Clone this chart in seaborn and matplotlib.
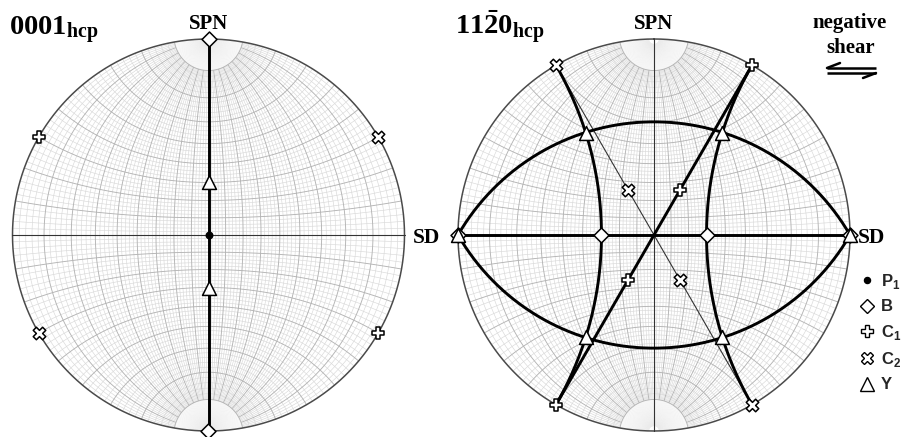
import numpy as np
import pandas as pd
import matplotlib.pyplot as plt
import seaborn as sns
from matplotlib.collections import LineCollection
from matplotlib.lines import Line2D

# marker kinds and their legend labels
kinds = ['P1', 'B', 'C1', 'C2', 'Y']
kind_labels = ['P$_1$', 'B', 'C$_1$', 'C$_2$', 'Y']

# pole figure points: polar angle from centre, azimuth ccw from SD (degrees)
pts_0001_kind = ['P1', 'B', 'B', 'C1', 'C1', 'C2', 'C2', 'Y', 'Y']
pts_0001_theta = [0, 90, 90, 90, 90, 90, 90, 30, 30]
pts_0001_azim = [0, 90, 270, 150, 330, 30, 210, 90, 270]

pts_1120_kind = ['B', 'B', 'B', 'B', 'C1', 'C1', 'C1', 'C1',
                 'C2', 'C2', 'C2', 'C2', 'Y', 'Y', 'Y', 'Y', 'Y', 'Y']
pts_1120_theta = [90, 30, 30, 90, 90, 30, 30, 90,
                  90, 30, 30, 90, 90, 64.3, 64.3, 64.3, 64.3, 90]
pts_1120_azim = [0, 0, 180, 180, 60, 60, 240, 240,
                 120, 120, 300, 300, 0, 56.3, 123.7, 236.3, 303.7, 180]

# traces: circles on the sphere given by axis (theta, azim) and cone angle
# (cone 90 = great circle); 'main' traces are the heavy ones
trc_0001_theta = [90, 90]
trc_0001_azim = [0, 90]
trc_0001_cone = [90, 90]
trc_0001_main = [True, False]

trc_1120_theta = [90, 90, 90, 90, 30, 30, 90, 90]
trc_1120_azim = [90, 150, 30, 0, 270, 90, 0, 180]
trc_1120_cone = [90, 90, 90, 90, 90, 90, 60, 60]
trc_1120_main = [True, True, False, False, True, True, True, True]

R = 196.0
centres = {'0001': (208.5, 235.0), '1120': (654.0, 235.0)}


def sph(theta, azim):
    t, a = np.radians(theta), np.radians(azim)
    return np.array([np.sin(t) * np.cos(a), np.sin(t) * np.sin(a), np.cos(t)])


def project(xyz, centre):
    x, y, z = xyz[..., 0], xyz[..., 1], xyz[..., 2]
    cx, cy = centre
    return cx + R * x / (1 + z), cy - R * y / (1 + z)


def cone_trace(theta, azim, cone, n=1440):
    p = sph(theta, azim)
    a = np.array([0, 0, 1.0]) if abs(p[2]) < 0.9 else np.array([1.0, 0, 0])
    u = np.cross(p, a)
    u /= np.linalg.norm(u)
    v = np.cross(p, u)
    t = np.linspace(0, 2 * np.pi, n, endpoint=False)
    c = np.radians(cone)
    pts = np.cos(c) * p + np.sin(c) * (np.cos(t)[:, None] * u + np.sin(t)[:, None] * v)
    keep = pts[:, 2] >= -1e-9
    if keep.all():
        return np.vstack([pts, pts[:1]])
    k = np.where(~keep & np.roll(keep, -1))[0][0] + 1
    pts, keep = np.roll(pts, -k, axis=0), np.roll(keep, -k)
    return pts[keep]


def meridian(lam, phi_lo, phi_hi, centre):
    phi = np.radians(np.linspace(phi_lo, phi_hi, 241))
    l = np.radians(lam)
    xyz = np.stack([np.cos(phi) * np.sin(l), np.sin(phi), np.cos(phi) * np.cos(l)], axis=-1)
    px, py = project(xyz, centre)
    return np.column_stack([px, py])


def net_segments(centre):
    fine, major, cap = [], [], []
    for lam in range(-88, 89, 2):
        (major if lam % 10 == 0 else fine).append(meridian(lam, -80, 80, centre))
        cap.append(meridian(lam, 80, 88.5, centre))
        cap.append(meridian(lam, -88.5, -80, centre))
    lam_s = np.radians(np.linspace(-90, 90, 361))
    for ph in range(-80, 81, 2):
        f = np.radians(ph)
        xyz = np.stack([np.cos(f) * np.sin(lam_s), np.full_like(lam_s, np.sin(f)),
                        np.cos(f) * np.cos(lam_s)], axis=-1)
        px, py = project(xyz, centre)
        (major if ph % 10 == 0 else fine).append(np.column_stack([px, py]))
    return fine, major, cap


sns.set_style('white')
plt.rcParams['mathtext.fontset'] = 'custom'
plt.rcParams['mathtext.rm'] = 'Liberation Sans:bold'
plt.rcParams['mathtext.bf'] = 'Liberation Serif:bold'

fig = plt.figure(figsize=(9.06, 4.37), dpi=100)
ax = fig.add_axes([0, 0, 1, 1])
ax.set_xlim(0, 906)
ax.set_ylim(437, 0)
ax.axis('off')

marker_style = {
    'P1': dict(marker='o', s=4.6 ** 2, color='black'),
    'B': dict(marker='D', s=7.6 ** 2, color='white'),
    'C1': dict(marker='P', s=9.0 ** 2, color='white'),
    'C2': dict(marker='X', s=9.0 ** 2, color='white'),
    'Y': dict(marker='^', s=10.0 ** 2, color='white'),
}

panels = {
    '0001': (pts_0001_kind, pts_0001_theta, pts_0001_azim,
             trc_0001_theta, trc_0001_azim, trc_0001_cone, trc_0001_main),
    '1120': (pts_1120_kind, pts_1120_theta, pts_1120_azim,
             trc_1120_theta, trc_1120_azim, trc_1120_cone, trc_1120_main),
}

for name, (pk, pt, pa, tt, ta, tc, tm) in panels.items():
    centre = centres[name]
    # Wulff net
    fine, major, cap = net_segments(centre)
    ax.add_collection(LineCollection(cap, colors='#ebebeb', linewidths=0.3, zorder=1))
    ax.add_collection(LineCollection(fine, colors='#d9d9d9', linewidths=0.45, zorder=1))
    ax.add_collection(LineCollection(major, colors='#b4b4b4', linewidths=0.65, zorder=1.2))
    prim = cone_trace(0, 0, 90)
    px, py = project(prim, centre)
    ax.plot(px, py, color='#4a4a4a', lw=1.1, zorder=2)

    # traces
    rows = []
    for i, (th, az, cn, mn) in enumerate(zip(tt, ta, tc, tm)):
        xyz = cone_trace(th, az, cn)
        px, py = project(xyz, centre)
        rows.append(pd.DataFrame({'x': px, 'y': py, 'trace': i, 'main': mn}))
    trc = pd.concat(rows, ignore_index=True)
    sns.lineplot(data=trc[trc['main']], x='x', y='y', units='trace', estimator=None,
                 sort=False, color='black', linewidth=2.1, ax=ax, zorder=3)
    sns.lineplot(data=trc[~trc['main']], x='x', y='y', units='trace', estimator=None,
                 sort=False, color='#333333', linewidth=0.8, ax=ax, zorder=2.5)

    # markers
    xyz = np.array([sph(t, a) for t, a in zip(pt, pa)])
    px, py = project(xyz, centre)
    pts = pd.DataFrame({'x': px, 'y': py, 'kind': pk})
    for kd in kinds:
        sub = pts[pts['kind'] == kd]
        if len(sub):
            st = marker_style[kd]
            sns.scatterplot(data=sub, x='x', y='y', marker=st['marker'], s=st['s'],
                            color=st['color'], edgecolor='black', linewidth=1.1,
                            ax=ax, zorder=5, clip_on=False, legend=False)

ax.set_xlabel('')
ax.set_ylabel('')

serif = dict(family='Liberation Serif', weight='bold', color='black')
ax.text(9, 35, r'$\mathbf{0001_{hcp}}$', fontsize=20.5, ha='left', va='baseline', color='black')
ax.text(455, 35, r'$\mathbf{11\bar{2}0_{hcp}}$', fontsize=20.5, ha='left', va='baseline', color='black')
for name, (cx, cy) in centres.items():
    ax.text(cx, 29, 'SPN', fontsize=15, ha='center', va='baseline', **serif)
    ax.text(cx + R + 8, cy + 8, 'SD', fontsize=15.5, ha='left', va='baseline', **serif)
ax.text(850, 28, 'negative', fontsize=15, ha='center', va='baseline', **serif)
ax.text(851, 53, 'shear', fontsize=15, ha='center', va='baseline', **serif)

# shear sense harpoons
ax.plot([827, 876], [68, 68], color='black', lw=1.8, solid_capstyle='butt')
ax.plot([827, 840], [68, 63], color='black', lw=1.8)
ax.plot([827, 876], [73, 73], color='black', lw=1.8, solid_capstyle='butt')
ax.plot([876, 863], [73, 78], color='black', lw=1.8)

handles = []
for kd in kinds:
    st = marker_style[kd]
    handles.append(Line2D([], [], ls='none', marker=st['marker'], markersize=np.sqrt(st['s']) * 0.95,
                          markerfacecolor=st['color'], markeredgecolor='black', markeredgewidth=1.0))
ax.legend(handles, kind_labels, loc='upper left', bbox_to_anchor=(859, 272),
          bbox_transform=ax.transData, frameon=False, borderpad=0, borderaxespad=0,
          handlelength=1.0, handletextpad=0.3, labelspacing=0.5,
          prop=dict(family='Liberation Sans', weight='bold', size=12))

fig.savefig('out.png', dpi=100, facecolor='white')
